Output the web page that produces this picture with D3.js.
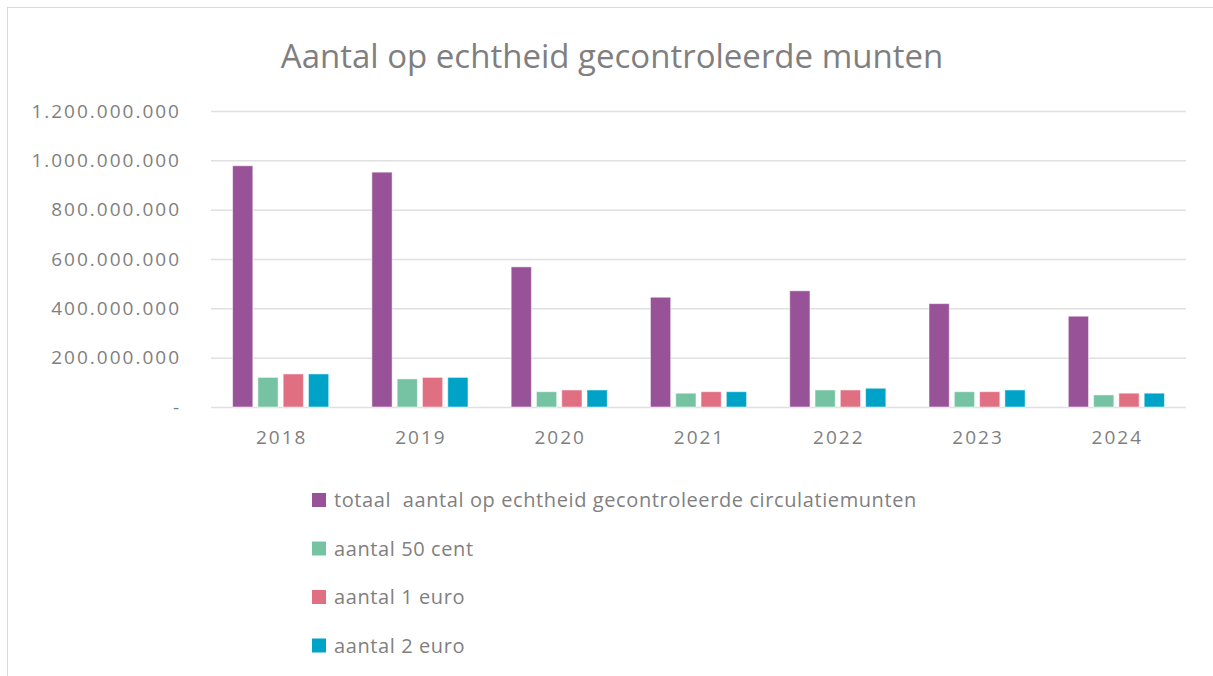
<!DOCTYPE html>
<html>
    <head>
        <meta charset="utf-8">
        <title>Aantal op echtheid gecontroleerde munten</title>
        <script src="https://d3js.org/d3.v7.min.js"></script>
    </head>
    <style>
        body {
            margin: 0;
            background: #fff;
        }
        svg text {
            font-family: "Open Sans", sans-serif;
            fill: #7f7f7f;
        }
    </style>
    <body>

        <div id="chart"></div>

        <script>

            // Data
            const years = ["2018", "2019", "2020", "2021", "2022", "2023", "2024"];
            const seriesNames = [
                "totaal  aantal op echtheid gecontroleerde circulatiemunten",
                "aantal 50 cent",
                "aantal 1 euro",
                "aantal 2 euro"
            ];
            const totaal    = [978e6, 952e6, 568e6, 445e6, 471e6, 419e6, 368e6];
            const cent50    = [120e6, 114e6, 62e6, 56e6, 69e6, 62e6, 49e6];
            const euro1     = [134e6, 120e6, 69e6, 62e6, 69e6, 62e6, 56e6];
            const euro2     = [134e6, 120e6, 69e6, 62e6, 76e6, 69e6, 56e6];
            const yTicks = [0, 200e6, 400e6, 600e6, 800e6, 1000e6, 1200e6];
            const colors = ["#985297", "#76c3a4", "#e06f82", "#00a3c8"];

            const allSeries = [totaal, cent50, euro1, euro2];

            const width = 1213, height = 676;
            const plotLeft = 211, plotRight = 1186, plotTop = 111, plotBottom = 407;

            const svg = d3.select("#chart")
                .append("svg")
                .attr("width", width)
                .attr("height", height);

            // outer border of the chart area
            svg.append("rect")
                .attr("x", 7.5).attr("y", 7.5)
                .attr("width", width).attr("height", height)
                .attr("fill", "none")
                .attr("stroke", "#d9d9d9");

            svg.append("text")
                .attr("x", 612)
                .attr("y", 68)
                .attr("text-anchor", "middle")
                .style("font-size", "33px")
                .text("Aantal op echtheid gecontroleerde munten");

            const y = d3.scaleLinear()
                .domain([0, 1200e6])
                .range([plotBottom, plotTop]);

            const x0 = d3.scaleBand()
                .domain(years)
                .range([plotLeft, plotRight])
                .paddingInner(0.31)
                .paddingOuter(0.155);

            const x1 = d3.scaleBand()
                .domain(d3.range(allSeries.length))
                .range([0, x0.bandwidth()])
                .paddingInner(0.2);

            // dutch number format: dots as thousands separators
            const nl = d3.formatLocale({decimal: ",", thousands: ".", grouping: [3], currency: ["€", ""]});
            const fmt = nl.format(",.0f");

            const yAxis = d3.axisLeft(y)
                .tickValues(yTicks)
                .tickSize(-(plotRight - plotLeft))
                .tickPadding(30)
                .tickFormat(d => d === 0 ? "-" : fmt(d));

            const gy = svg.append("g")
                .attr("transform", `translate(${plotLeft},0)`)
                .call(yAxis);
            gy.select(".domain").remove();
            gy.selectAll(".tick line")
                .attr("stroke", "#e0e0e0")
                .attr("stroke-width", 1.5);
            gy.selectAll(".tick text")
                .style("font-size", "19px")
                .style("letter-spacing", "2px")
                .attr("fill", "#7f7f7f");

            const xAxis = d3.axisBottom(x0).tickSize(0).tickPadding(24);
            const gx = svg.append("g")
                .attr("transform", `translate(0,${plotBottom})`)
                .call(xAxis);
            gx.select(".domain").remove();
            gx.selectAll(".tick text")
                .style("font-size", "19px")
                .style("letter-spacing", "2px")
                .attr("dx", 1)
                .attr("fill", "#7f7f7f");

            // bars
            const groups = svg.selectAll("g.year")
                .data(years)
                .enter()
                .append("g")
                .attr("class", "year")
                .attr("transform", d => `translate(${x0(d)},0)`);

            groups.selectAll("rect")
                .data((d, i) => allSeries.map((s, k) => ({k: k, v: s[i]})))
                .enter()
                .append("rect")
                .attr("x", d => x1(d.k))
                .attr("y", d => y(d.v))
                .attr("width", x1.bandwidth())
                .attr("height", d => y(0) - y(d.v))
                .attr("fill", d => colors[d.k])
                .attr("stroke", "#fff")
                .attr("stroke-opacity", 0.5)
                .attr("stroke-width", 1);

            // legend
            const legend = svg.selectAll("g.legend")
                .data(seriesNames)
                .enter()
                .append("g")
                .attr("class", "legend")
                .attr("transform", (d, i) => `translate(312,${500 + i * 48.5})`);

            legend.append("rect")
                .attr("x", 0).attr("y", -7)
                .attr("width", 14).attr("height", 14)
                .attr("fill", (d, i) => colors[i]);

            legend.append("text")
                .attr("x", 22)
                .attr("y", 7)
                .style("font-size", "20px")
                .style("letter-spacing", "0.6px")
                .style("white-space", "pre")
                .text(d => d);

        </script>

    </body>
</html>
